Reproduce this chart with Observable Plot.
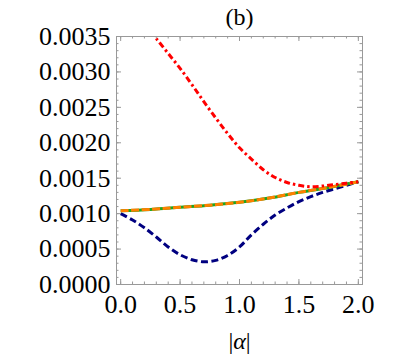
<!DOCTYPE html>
<html><head><meta charset="utf-8">
<script src="https://cdn.jsdelivr.net/npm/d3@7"></script>
<script src="https://cdn.jsdelivr.net/npm/@observablehq/plot@0.6"></script>
<style>
body{margin:0;background:#fff;}
svg text{font-family:"Liberation Serif","Times New Roman",serif !important;}
</style>
</head><body><div id="chart"></div>
<script>
// Data
const alphaRed = [0.25, 0.3, 0.4, 0.5, 0.6, 0.7, 0.8, 0.9, 1.0, 1.1, 1.2, 1.3, 1.4, 1.5, 1.6, 1.7, 1.8, 1.9, 2.0];
const valueRed = [0.00357, 0.00347, 0.00326, 0.00305, 0.00282, 0.00258, 0.00235, 0.00213, 0.00193, 0.00177, 0.00162, 0.00151, 0.00144, 0.00140, 0.00138, 0.00139, 0.00141, 0.00143, 0.00145];
const alphaBlue = [0.0, 0.1, 0.2, 0.3, 0.4, 0.5, 0.6, 0.7, 0.8, 0.9, 1.0, 1.1, 1.2, 1.3, 1.4, 1.5, 1.6, 1.7, 1.8, 1.9, 2.0];
const valueBlue = [0.00100, 0.00091, 0.00080, 0.00067, 0.00053, 0.00042, 0.00035, 0.00032, 0.00034, 0.00041, 0.00053, 0.00070, 0.00085, 0.00098, 0.00108, 0.00117, 0.00124, 0.00130, 0.00135, 0.00140, 0.00145];
const alphaOrange = [0.0, 0.25, 0.5, 0.75, 1.0, 1.25, 1.5, 1.75, 2.0];
const valueOrange = [0.00104, 0.00106, 0.00109, 0.00112, 0.00116, 0.00122, 0.00130, 0.00137, 0.00145];
const xTickLabels = [0, 0.5, 1, 1.5, 2];
const yTickLabels = [0, 0.0005, 0.001, 0.0015, 0.002, 0.0025, 0.003, 0.0035];
const xMinorTicks = d3.range(0, 21).map(i => i / 10);
const yMinorTicks = d3.range(0, 36).map(i => i / 10000);
const titleText = "(b)";
const xLabel = "|α|";

const toRows = (xs, ys) => xs.map((a, i) => ({a, v: ys[i]}));
const red = toRows(alphaRed, valueRed);
const blue = toRows(alphaBlue, valueBlue);
const orange = toRows(alphaOrange, valueOrange);

const frameH = 248, frameW = 246;
const tickColor = "#999";
const serif = "Liberation Serif";
const lineOpts = {x: "a", y: "v", strokeWidth: 3, curve: "catmull-rom", clip: true, strokeLinecap: "butt"};

const chart = Plot.plot({
  width: 399, height: 355,
  marginTop: 36, marginBottom: 71, marginLeft: 116, marginRight: 37,
  style: {fontFamily: serif, background: "white", color: "black"},
  x: {domain: [-0.035, 2.035]},
  y: {domain: [0, 0.0035]},
  marks: [
    Plot.line(blue, {...lineOpts, stroke: "#000080", strokeDasharray: "7,3.5"}),
    Plot.line(orange, {...lineOpts, stroke: "#1fa51f"}),
    Plot.line(orange, {...lineOpts, stroke: "#ff8000", strokeDasharray: "8,2.5"}),
    Plot.line(red, {...lineOpts, stroke: "#ff0000", strokeDasharray: "6,3,2.5,3"}),
    Plot.frame({stroke: tickColor}),
    Plot.tickX(xMinorTicks, {x: d => d, stroke: tickColor, insetTop: frameH - 2.5}),
    Plot.tickX(xMinorTicks, {x: d => d, stroke: tickColor, insetBottom: frameH - 2.5}),
    Plot.tickX(xTickLabels, {x: d => d, stroke: tickColor, insetTop: frameH - 5}),
    Plot.tickX(xTickLabels, {x: d => d, stroke: tickColor, insetBottom: frameH - 5}),
    Plot.tickY(yMinorTicks, {y: d => d, stroke: tickColor, insetRight: frameW - 2.5}),
    Plot.tickY(yMinorTicks, {y: d => d, stroke: tickColor, insetLeft: frameW - 2.5}),
    Plot.tickY(yTickLabels, {y: d => d, stroke: tickColor, insetRight: frameW - 5}),
    Plot.tickY(yTickLabels, {y: d => d, stroke: tickColor, insetLeft: frameW - 5}),
    Plot.axisX(xTickLabels, {tickSize: 0, tickPadding: 10, tickFormat: d3.format(".1f"), fontSize: 26, fontFamily: serif, label: null}),
    Plot.axisY(yTickLabels, {tickSize: 0, tickPadding: 6, tickFormat: d3.format(".4f"), fontSize: 26, fontFamily: serif, label: null}),
    Plot.text([titleText], {text: d => d, frameAnchor: "top", lineAnchor: "middle", dy: -19, fontSize: 24, fontFamily: serif}),
    Plot.text([xLabel], {text: d => d, frameAnchor: "bottom", lineAnchor: "middle", dy: 57, fontSize: 24, fontFamily: serif})
  ]
});
chart.querySelectorAll("text").forEach(t => {
  if (t.textContent === xLabel) {
    t.innerHTML = '|<tspan font-style="italic">α</tspan>|';
  }
});
document.getElementById("chart").appendChild(chart);
</script>
</body></html>
